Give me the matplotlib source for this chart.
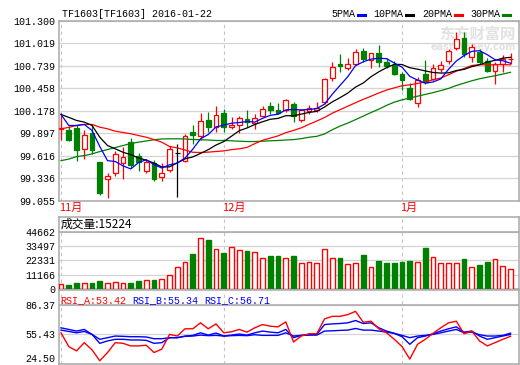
import numpy as np
import pandas as pd
import matplotlib
matplotlib.use('Agg')
import matplotlib.pyplot as plt
from matplotlib.lines import Line2D
import matplotlib.transforms as mtransforms

# TF1603 日K (2015-11 ~ 2016-01-22)
opens = [99.950, 99.940, 99.960, 99.702, 99.897, 99.534, 99.321, 99.396, 99.530, 99.785,
         99.618, 99.421, 99.530, 99.349, 99.439, 99.647, 99.555, 99.910, 99.856, 100.065,
         99.972, 100.148, 99.972, 100.002, 100.078, 100.023, 100.106, 100.232, 100.182, 100.190,
         100.257, 100.056, 100.173, 100.182, 100.285, 100.591, 100.754, 100.716, 100.754, 100.924,
         100.808, 100.892, 100.787, 100.745, 100.641, 100.461, 100.269, 100.629, 100.570, 100.695,
         100.795, 100.962, 101.087, 100.849, 100.912, 100.795, 100.670, 100.754, 100.817]
highs = [100.144, 99.981, 99.994, 99.943, 99.994, 99.534, 99.396, 99.681, 99.722, 99.831,
         99.656, 99.580, 99.568, 99.530, 99.731, 99.765, 99.890, 99.994, 100.148, 100.160,
         100.232, 100.203, 100.098, 100.106, 100.190, 100.140, 100.232, 100.285, 100.273, 100.328,
         100.285, 100.203, 100.244, 100.285, 100.586, 100.779, 100.883, 100.829, 100.942, 100.954,
         100.899, 100.996, 100.829, 100.799, 100.661, 100.520, 100.595, 100.808, 100.754, 100.795,
         100.946, 101.162, 101.162, 101.004, 100.946, 100.829, 100.787, 100.871, 100.892]
lows = [99.818, 99.797, 99.555, 99.580, 99.643, 99.130, 99.083, 99.367, 99.330, 99.467,
        99.430, 99.405, 99.305, 99.305, 99.418, 99.105, 99.534, 99.765, 99.815, 99.910,
        99.910, 99.910, 99.952, 99.897, 99.972, 99.952, 100.098, 100.140, 100.140, 100.160,
        100.035, 100.035, 100.140, 100.160, 100.257, 100.548, 100.661, 100.683, 100.745, 100.787,
        100.716, 100.724, 100.716, 100.620, 100.441, 100.307, 100.219, 100.516, 100.557, 100.661,
        100.766, 100.933, 100.849, 100.779, 100.754, 100.661, 100.516, 100.661, 100.754]
closes = [99.960, 99.815, 99.693, 99.877, 99.693, 99.146, 99.364, 99.639, 99.605, 99.502,
          99.543, 99.543, 99.330, 99.396, 99.702, 99.647, 99.865, 99.877, 100.044, 99.972,
          100.119, 99.972, 100.002, 100.085, 100.035, 100.085, 100.203, 100.190, 100.153, 100.307,
          100.106, 100.182, 100.215, 100.215, 100.579, 100.724, 100.733, 100.758, 100.904, 100.817,
          100.892, 100.787, 100.733, 100.632, 100.557, 100.319, 100.557, 100.536, 100.711, 100.745,
          100.920, 101.071, 100.879, 100.974, 100.787, 100.670, 100.754, 100.817, 100.821]
volumes = [3900, 3200, 4700, 4700, 4700, 5900, 4400, 5200, 4700, 4700,
           5900, 6700, 6900, 8100, 11300, 17500, 21300, 27400, 39800, 38500,
           31100, 28100, 33100, 30400, 29900, 28700, 24400, 25400, 25400, 24400,
           25400, 20500, 21300, 20500, 31100, 24400, 24400, 19300, 20500, 26200,
           17500, 21700, 20000, 20000, 20700, 21700, 21300, 32100, 24900, 20500,
           20500, 20500, 23000, 17500, 18500, 20700, 23700, 18300, 15224]

# 均线开头几天 (之前的历史数据图上看不到, 直接读图)
ma5_head = [100.131, 99.993, 99.993, 100.006, 99.931, 99.731]
ma10_head = [100.131, 100.094, 100.056, 100.035, 99.994, 99.847, 99.743, 99.702, 99.659]
ma20_head = [99.952, 99.969, 99.994, 100.006, 100.006, 99.972, 99.952, 99.922, 99.906, 99.890,
             99.868, 99.847, 99.818, 99.785, 99.731, 99.714, 99.687, 99.659, 99.656]
ma30_head = [99.555, 99.574, 99.605, 99.618, 99.639, 99.668, 99.693, 99.718, 99.743, 99.768,
             99.785, 99.800, 99.815, 99.825, 99.827, 99.827, 99.825, 99.818, 99.815, 99.812,
             99.806, 99.806, 99.802, 99.797, 99.793, 99.793, 99.797, 99.802, 99.806]

rsi_a = [57.1, 42.7, 38.2, 46.8, 39.3, 27.9, 36.5, 46.8, 46.1, 43.4,
         43.4, 44.1, 36.5, 40.0, 55.4, 53.7, 61.3, 61.3, 67.5, 61.3,
         66.4, 57.1, 58.2, 60.6, 57.8, 62.3, 65.7, 64.0, 63.3, 68.5,
         47.5, 53.7, 56.1, 56.1, 71.6, 74.3, 74.3, 76.1, 79.5, 68.1,
         69.2, 61.3, 57.1, 50.3, 42.7, 29.6, 45.1, 50.3, 56.5, 62.3,
         67.5, 69.2, 56.1, 58.9, 48.6, 43.4, 46.8, 50.3, 53.42]
rsi_b = [62.3, 60.6, 58.9, 60.6, 55.4, 46.1, 48.6, 50.3, 50.3, 49.6,
         49.6, 49.2, 46.1, 46.8, 52.0, 52.0, 53.7, 54.4, 57.1, 54.7,
         56.8, 53.7, 54.7, 55.8, 54.7, 57.1, 58.9, 57.8, 57.1, 60.6,
         52.0, 54.4, 55.1, 55.4, 65.7, 66.4, 66.8, 67.5, 69.9, 66.8,
         67.5, 62.3, 58.9, 56.5, 53.0, 45.1, 52.0, 53.7, 56.1, 58.9,
         61.3, 63.3, 57.8, 58.9, 53.7, 50.3, 52.0, 53.7, 55.34]
rsi_c = [59.9, 58.5, 57.1, 58.5, 55.4, 50.3, 52.0, 53.7, 53.4, 53.0,
         53.0, 52.7, 50.9, 50.9, 52.0, 52.0, 53.4, 53.7, 54.7, 54.1,
         54.4, 53.7, 54.1, 54.4, 54.1, 55.1, 54.4, 54.4, 54.4, 57.1,
         53.7, 54.4, 54.7, 54.7, 58.9, 59.2, 59.6, 59.9, 61.6, 59.9,
         59.9, 58.9, 57.8, 56.5, 54.4, 52.0, 53.7, 54.4, 55.4, 57.1,
         58.9, 60.6, 57.1, 57.8, 55.1, 53.7, 53.7, 54.4, 56.71]

month_pos = [0, 21, 44]
month_labels = ['11月', '12月', '1月']
price_ticks = [99.055, 99.336, 99.616, 99.897, 100.178, 100.458, 100.739, 101.019, 101.300]
vol_ticks = [0, 11166, 22331, 33497, 44662]
rsi_ticks = [24.50, 55.43, 86.37]

RED = '#ff0000'
GREEN = '#008000'
BLUE = '#0000ff'
BLACK = '#000000'
FRAME = '#a8a8a8'
GRID = '#d4d4d4'

plt.rcParams['font.family'] = ['Liberation Mono', 'Noto Sans CJK SC', 'DejaVu Sans']
plt.rcParams['font.size'] = 7.2
CJK = ['Noto Sans CJK SC', 'DejaVu Sans']

W, H = 520, 365
fig = plt.figure(figsize=(W / 100, H / 100), dpi=100)


def box(x0, y0, x1, y1):
    # 像素框 -> figure 比例
    return [x0 / W, 1 - y1 / H, (x1 - x0) / W, (y1 - y0) / H]


ax_p = fig.add_axes(box(58.7, 20.7, 519.3, 200.7))
ax_v = fig.add_axes(box(58.7, 217, 519.3, 289))
ax_r = fig.add_axes(box(58.7, 290, 519.3, 364))

x = np.arange(len(closes))
o = np.array(opens)
c = np.array(closes)


def with_head(n, head):
    s = pd.Series(closes).rolling(n).mean().to_numpy()
    s[:len(head)] = head
    return s


ma5 = with_head(5, ma5_head)
ma10 = with_head(10, ma10_head)
ma20 = with_head(20, ma20_head)
ma30 = with_head(30, ma30_head)

for ax in (ax_p, ax_v, ax_r):
    ax.set_xlim(-0.3, 59.13)
    ax.set_xticks([])
    for sp in ax.spines.values():
        sp.set_color(FRAME)
        sp.set_linewidth(1.1)
    ax.tick_params(axis='y', length=0, pad=2.5, labelsize=7.2)
    ax.grid(axis='y', color=GRID, lw=0.9)
    ax.set_axisbelow(True)
    for m in month_pos:
        ax.axvline(m, color='#c4c4c4', lw=0.8, ls=(0, (3, 3)), zorder=0)

# 价格
ax_p.set_ylim(price_ticks[0], price_ticks[-1])
ax_p.set_yticks(price_ticks)
ax_p.set_yticklabels(['%.3f' % t for t in price_ticks])

col = [RED if cc > oo else (GREEN if cc < oo else BLACK) for oo, cc in zip(opens, closes)]
face = [GREEN if cc < oo else 'white' for oo, cc in zip(opens, closes)]
ax_p.vlines(x, lows, highs, colors=col, lw=0.9, zorder=2)
ax_p.bar(x, np.abs(c - o), 0.62, bottom=np.minimum(o, c), color=face,
         edgecolor=col, lw=0.9, zorder=3)

ax_p.plot(x, ma30, color=GREEN, lw=0.9, zorder=4)
ax_p.plot(x, ma20, color=RED, lw=0.9, zorder=4)
ax_p.plot(x, ma10, color=BLACK, lw=0.9, zorder=4)
ax_p.plot(x, ma5, color=BLUE, lw=0.9, zorder=4)

trans = mtransforms.blended_transform_factory(ax_p.transData, ax_p.transAxes)
for m, lab in zip(month_pos, month_labels):
    ax_p.text(m - 0.25, -0.042, lab, transform=trans, color=RED, fontsize=8,
              family=CJK, ha='left', va='center')

# 水印
ax_p.text(0.992, 0.93, '东方财富网', transform=ax_p.transAxes, family=CJK, fontsize=11,
          fontweight='bold', color='#e2e2e2', ha='right', va='center', zorder=1)
ax_p.text(0.992, 0.855, 'eastmoney.com', transform=ax_p.transAxes, family='DejaVu Sans',
          fontsize=7, fontweight='bold', color='#e2e2e2', ha='right', va='center', zorder=1)

# 成交量
vcol = [RED if cc >= oo else GREEN for oo, cc in zip(opens, closes)]
vface = ['white' if cc >= oo else GREEN for oo, cc in zip(opens, closes)]
ax_v.set_ylim(0, vol_ticks[-1] * 72 / 57.3)
ax_v.set_yticks(vol_ticks)
ax_v.set_yticklabels([str(t) for t in vol_ticks])
ax_v.axhline(vol_ticks[-1], color=FRAME, lw=1.1)
ax_v.bar(x, volumes, 0.62, color=vface, edgecolor=vcol, lw=1.0, zorder=3)
ax_v.text(0.003, 0.9, '成交量:%d' % volumes[-1], transform=ax_v.transAxes, family=CJK,
          fontsize=8.5, ha='left', va='center')

# RSI
ax_r.set_ylim(rsi_ticks[0], 101.8)
ax_r.set_yticks(rsi_ticks)
ax_r.set_yticklabels(['%.2f' % t for t in rsi_ticks])
ax_r.axhline(rsi_ticks[-1], color=FRAME, lw=1.1)
ax_r.get_yticklabels()[0].set_va('bottom')
ax_r.plot(x, rsi_c, color=BLUE, lw=1.0, zorder=3)
ax_r.plot(x, rsi_b, color=BLUE, lw=1.0, zorder=3)
ax_r.plot(x, rsi_a, color=RED, lw=1.0, zorder=4)
for xx, lab, cl in [(0.003, 'RSI_A:%.2f' % rsi_a[-1], RED),
                    (0.159, 'RSI_B:%.2f' % rsi_b[-1], BLUE),
                    (0.316, 'RSI_C:%.2f' % rsi_c[-1], BLUE)]:
    ax_r.text(xx, 0.86, lab, transform=ax_r.transAxes, color=cl, fontsize=7.2,
              ha='left', va='center')

# 标题和图例
fig.text(61.5 / W, 1 - 14 / H, 'TF1603[TF1603] 2016-01-22', fontsize=7.2,
         ha='left', va='center')
legend = [('5PMA', 331.5, BLUE), ('10PMA', 373, BLACK), ('20PMA', 422, RED), ('30PMA', 470, GREEN)]
for name, lx, lc in legend:
    fig.text(lx / W, 1 - 14 / H, name, fontsize=7.2, ha='left', va='center')
    tx = lx + len(name) * 5.95 + 3
    fig.add_artist(Line2D([tx / W, (tx + 7) / W], [1 - 15 / H, 1 - 15 / H],
                          transform=fig.transFigure, color=lc, lw=2.2))

fig.savefig('out.png', dpi=100, facecolor='white')
